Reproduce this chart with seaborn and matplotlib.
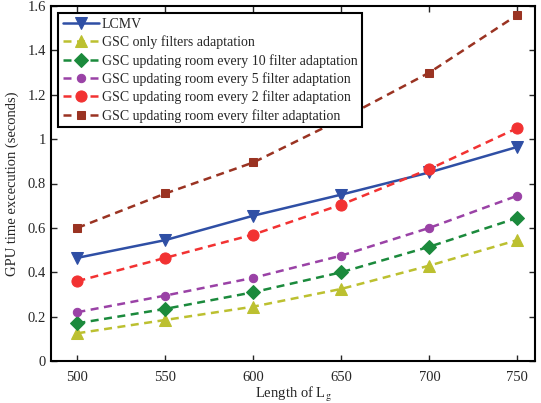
import pandas as pd
import matplotlib
matplotlib.use("Agg")
import matplotlib.pyplot as plt
import seaborn as sns

# data
lengths = [500, 550, 600, 650, 700, 750]
lcmv = [0.465, 0.545, 0.655, 0.75, 0.85, 0.965]
gsc_only = [0.125, 0.185, 0.245, 0.325, 0.43, 0.545]
gsc_10 = [0.17, 0.235, 0.31, 0.40, 0.515, 0.645]
gsc_5 = [0.22, 0.295, 0.375, 0.475, 0.60, 0.745]
gsc_2 = [0.36, 0.465, 0.57, 0.705, 0.865, 1.05]
gsc_1 = [0.60, 0.755, 0.895, 1.09, 1.30, 1.56]

labels = ["LCMV",
          "GSC only filters adaptation",
          "GSC updating room every 10 filter adaptation",
          "GSC updating room every 5 filter adaptation",
          "GSC updating room every 2 filter adaptation",
          "GSC updating room every filter adaptation"]
series = [lcmv, gsc_only, gsc_10, gsc_5, gsc_2, gsc_1]
colors = ["#2f4fa5", "#bcc030", "#1b8a3c", "#9a42a6", "#f23232", "#9a3322"]
markers = ["v", "^", "D", "o", "o", "s"]
msizes = [9, 9, 7, 6, 8, 6]
dashed = [False, True, True, True, True, True]

df = pd.DataFrame({"length": lengths * len(series),
                   "time": sum(series, []),
                   "method": [l for l in labels for _ in lengths]})

sns.set_style("ticks")
plt.rcParams["font.family"] = ["Liberation Serif", "DejaVu Serif"]
plt.rcParams["mathtext.fontset"] = "stix"

fig = plt.figure(figsize=(5.41, 4.03), dpi=100)
ax = fig.add_axes([51 / 541, 42 / 403, 484 / 541, 355 / 403])

for lab, c, m, ms, d in zip(labels, colors, markers, msizes, dashed):
    sub = df[df["method"] == lab]
    sns.lineplot(data=sub, x="length", y="time", ax=ax, color=c, marker=m,
                 markersize=ms, markeredgecolor=c, linewidth=1.8,
                 linestyle=(0, (3.2, 2.2)) if d else "-", label=lab)

ax.set_xlim(485, 760)
ax.set_ylim(0, 1.6)
ax.set_xticks(lengths)
ax.set_yticks([0, 0.2, 0.4, 0.6, 0.8, 1.0, 1.2, 1.4, 1.6])
ax.set_yticklabels(["0", "0.2", "0.4", "0.6", "0.8", "1", "1.2", "1.4", "1.6"])
ax.tick_params(direction="in", top=True, right=True, labelsize=10.5, length=4.5, width=1)
ax.tick_params(axis="x", pad=7)
for s in ax.spines.values():
    s.set_linewidth(1.5)
    s.set_color("black")

ax.set_xlabel("Length of L$_\\mathrm{g}$", fontsize=10.5, labelpad=1)
ax.set_ylabel("GPU time excecution (seconds)", fontsize=10.5, labelpad=6)

leg = ax.legend(loc="upper left", fontsize=10, frameon=True, fancybox=False,
                edgecolor="black", framealpha=1, borderaxespad=0.5,
                handlelength=2.6, labelspacing=0.33, borderpad=0.35,
                handletextpad=0.2)
leg.get_frame().set_linewidth(1.5)

fig.savefig("out.png", dpi=100)
